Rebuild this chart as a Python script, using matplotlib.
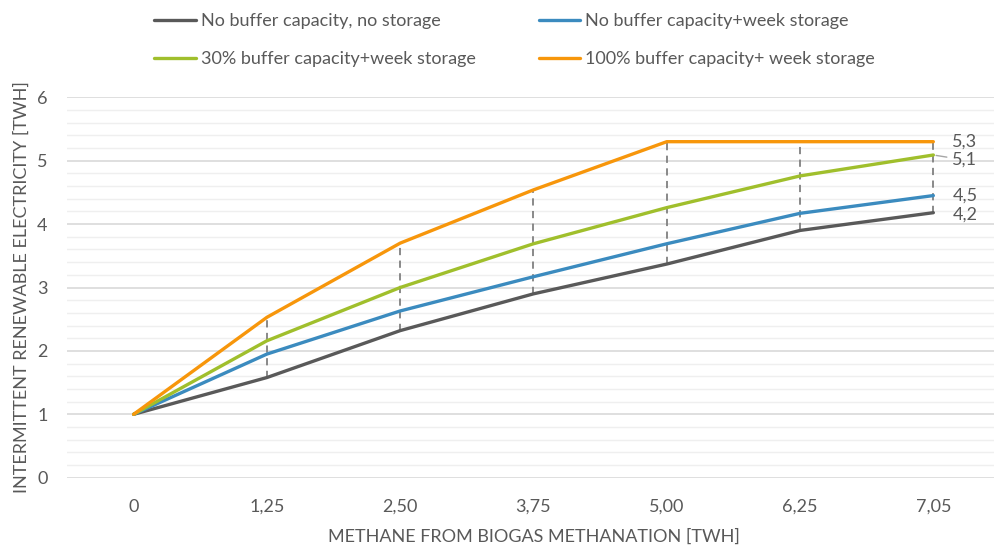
import matplotlib.pyplot as plt
import numpy as np
from matplotlib.ticker import MultipleLocator

plt.rcParams["font.family"] = ["Lato", "DejaVu Sans"]

# methane from biogas methanation [TWh] -> categories on the x axis
methane = ["0", "1,25", "2,50", "3,75", "5,00", "6,25", "7,05"]

no_buffer_no_storage = [1.0, 1.58, 2.32, 2.90, 3.37, 3.90, 4.18]
no_buffer_week = [1.0, 1.95, 2.63, 3.17, 3.69, 4.17, 4.45]
buffer30_week = [1.0, 2.16, 3.00, 3.69, 4.26, 4.76, 5.09]
buffer100_week = [1.0, 2.53, 3.70, 4.54, 5.30, 5.30, 5.30]

series_names = [
    "No buffer capacity, no storage",
    "No buffer capacity+week storage",
    "30% buffer capacity+week storage",
    "100% buffer capacity+ week storage",
]
series = [no_buffer_no_storage, no_buffer_week, buffer30_week, buffer100_week]
colors = ["#595959", "#3b8bbf", "#a0bf2c", "#f7960b"]
text_col = "#595959"
fs = 13

fig = plt.figure(figsize=(9.94, 5.48), dpi=100)
ax = fig.add_axes([67 / 994, 70.3 / 548, 933 / 994, 380.4 / 548])

x = np.arange(len(methane))

# dashed drop lines from highest to lowest series
hi = np.max(series, axis=0)
lo = np.min(series, axis=0)
ax.vlines(x[1:], lo[1:], hi[1:], colors="#808080", linestyles=(0, (4, 3)),
          linewidth=1.3, zorder=2)

lines = []
for vals, name, c in zip(series, series_names, colors):
    ln, = ax.plot(x, vals, color=c, lw=2.4, label=name, zorder=3,
                  solid_capstyle="round", solid_joinstyle="round")
    lines.append(ln)

# end-of-line value labels (pixel offsets; the 30% label is pushed down
# and gets a leader line)
label_offsets = [(19, -2), (19, 0), (19, -5), (19, 0)]
for i, (vals, (dx, dy)) in enumerate(zip(series, label_offsets)):
    txt = f"{vals[-1]:.1f}".replace(".", ",")
    arrow = None
    if i == 2:
        arrow = dict(arrowstyle="-", color="#a6a6a6", lw=1, shrinkA=2, shrinkB=2)
    ax.annotate(txt, (x[-1], vals[-1]), xytext=(dx, dy),
                textcoords="offset pixels", va="center", ha="left",
                fontsize=fs, color=text_col, arrowprops=arrow)

ax.set_xlim(-0.5, 6.5)
ax.set_ylim(0, 6)
ax.set_xticks(x)
ax.set_xticklabels(methane)
ax.yaxis.set_major_locator(MultipleLocator(1))
ax.yaxis.set_minor_locator(MultipleLocator(0.2))
ax.grid(which="major", axis="y", color="#d9d9d9", lw=1.2, zorder=0)
ax.grid(which="minor", axis="y", color="#efefef", lw=1.0, zorder=0)
ax.set_axisbelow(True)
for s in ax.spines.values():
    s.set_visible(False)
ax.tick_params(which="both", length=0, labelsize=fs, labelcolor=text_col)
ax.tick_params(axis="x", pad=15)
ax.tick_params(axis="y", pad=14)

ax.set_xlabel("METHANE FROM BIOGAS METHANATION [TWH]", fontsize=fs,
              color=text_col, labelpad=10)
ax.set_ylabel("INTERMITTENT RENEWABLE ELECTRICITY [TWH]", fontsize=fs,
              color=text_col, labelpad=5)

order = [0, 2, 1, 3]
fig.legend([lines[i] for i in order], [series_names[i] for i in order],
           ncol=2, loc="upper left", bbox_to_anchor=(138 / 994, 1.0 + 3 / 548),
           frameon=False, fontsize=fs, labelcolor=text_col,
           handlelength=2.3, handletextpad=0.28, columnspacing=3.5,
           labelspacing=1.2)

fig.savefig("out.png", dpi=100)
